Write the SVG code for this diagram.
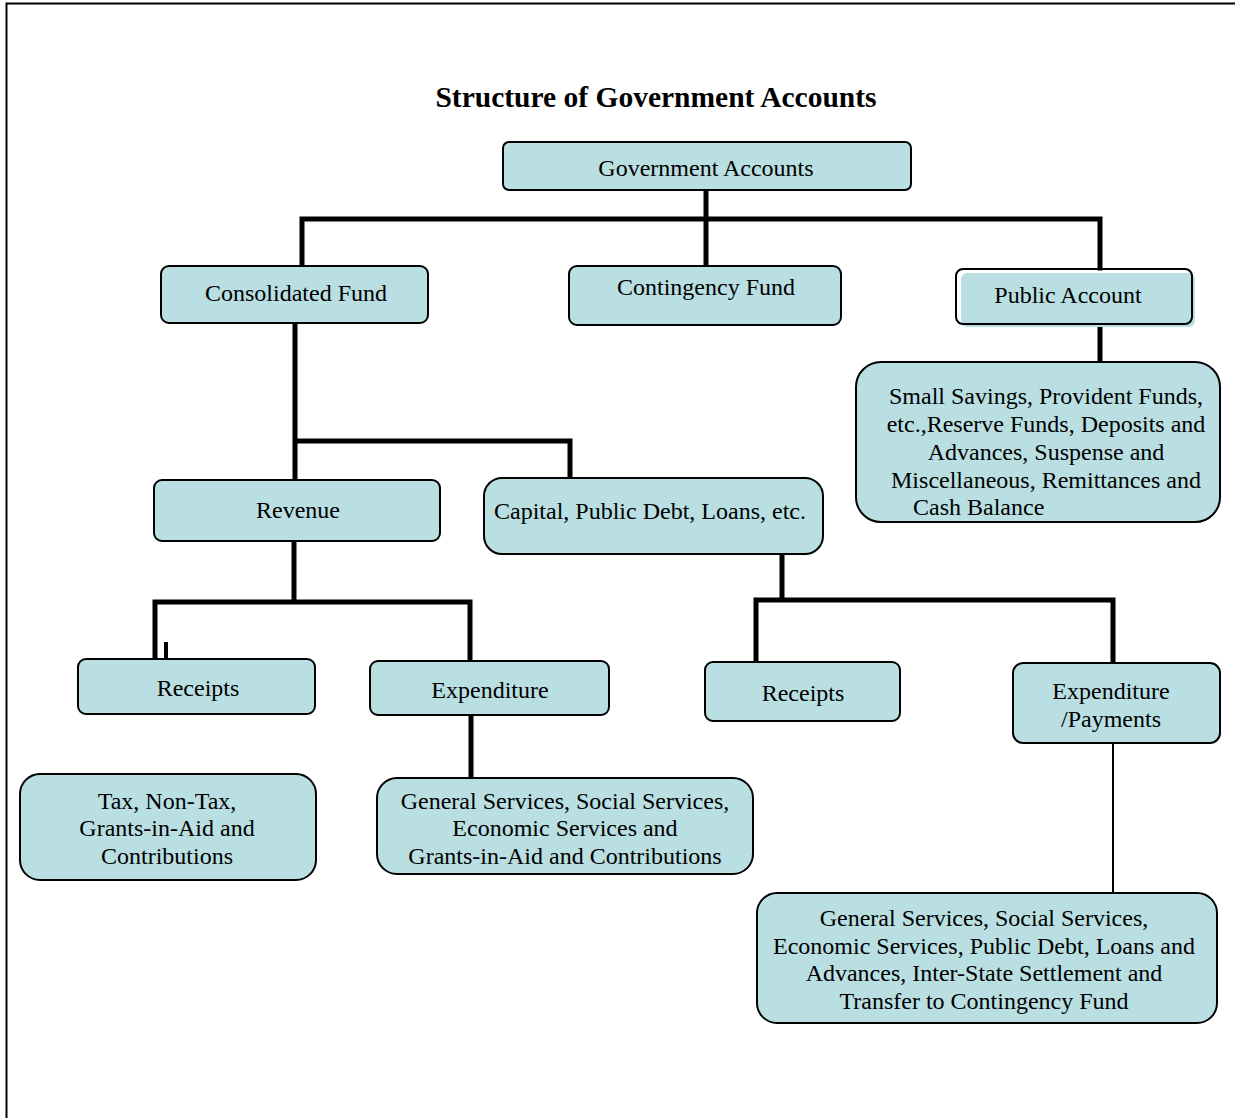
<svg xmlns="http://www.w3.org/2000/svg" width="1235" height="1118" viewBox="0 0 1235 1118">
<style>
.box{fill:#b9dfe2;stroke:#000;stroke-width:2}
.t{font-family:"Liberation Serif","Times New Roman",serif;font-size:24px;fill:#000;text-anchor:middle}
.title{font-family:"Liberation Serif","Times New Roman",serif;font-size:29.5px;font-weight:bold;fill:#000;text-anchor:middle}
.c{fill:none;stroke:#000;stroke-width:5;stroke-linecap:square}
</style>
<rect x="0" y="0" width="1235" height="1118" fill="#fff"/>
<path d="M6.5 1118 V3.5 H1235" fill="none" stroke="#000" stroke-width="2"/>
<text class="title" x="656" y="107">Structure of Government Accounts</text>
<g id="connectors">
<path class="c" d="M706 191 V265 M302 266 V219 H1100 V268"/>
<path class="c" d="M1100 324 V361"/>
<path class="c" d="M295 324 V479 M295 441 H570 V477"/>
<path class="c" d="M294 542 V602 M155 659 V602 H470 V660"/>
<path d="M166 642 V659" stroke="#000" stroke-width="4" fill="none"/>
<path class="c" d="M471 718 V777"/>
<path class="c" d="M782 555 V600 M756 661 V600 H1113 V662"/>
<path d="M1113 744 V892" stroke="#000" stroke-width="2" fill="none"/>
</g>
<g id="gov"><rect class="box" x="503" y="142" width="408" height="48" rx="6"/><text class="t" x="706" y="176">Government Accounts</text></g>
<g id="consolidated"><rect class="box" x="161" y="266" width="267" height="57" rx="8"/><text class="t" x="296" y="301">Consolidated Fund</text></g>
<g id="contingency"><rect class="box" x="569" y="266" width="272" height="59" rx="8"/><text class="t" x="706" y="295">Contingency Fund</text></g>
<g id="public">
<rect x="961" y="273" width="234" height="54" rx="6" fill="#b9dfe2"/>
<rect x="956" y="269" width="236" height="55" rx="7" fill="none" stroke="#000" stroke-width="2"/>
<text class="t" x="1068" y="303">Public Account</text></g>
<g id="savings"><rect class="box" x="856" y="362" width="364" height="160" rx="25"/>
<text class="t" x="1046" y="404">Small Savings, Provident Funds,</text>
<text class="t" x="1046" y="432">etc.,Reserve Funds, Deposits and</text>
<text class="t" x="1046" y="460">Advances, Suspense and</text>
<text class="t" x="1046" y="488">Miscellaneous, Remittances and</text>
<text class="t" x="913" y="515" style="text-anchor:start">Cash Balance</text></g>
<g id="revenue"><rect class="box" x="154" y="480" width="286" height="61" rx="8"/><text class="t" x="298" y="518">Revenue</text></g>
<g id="capital"><rect class="box" x="484" y="478" width="339" height="76" rx="18"/><text class="t" x="650" y="519">Capital, Public Debt, Loans, etc.</text></g>
<g id="receipts1"><rect class="box" x="78" y="659" width="237" height="55" rx="8"/><text class="t" x="198" y="696">Receipts</text></g>
<g id="expenditure1"><rect class="box" x="370" y="661" width="239" height="54" rx="8"/><text class="t" x="490" y="698">Expenditure</text></g>
<g id="tax"><rect class="box" x="20" y="774" width="296" height="106" rx="20"/>
<text class="t" x="167" y="809">Tax, Non-Tax,</text>
<text class="t" x="167" y="836">Grants-in-Aid and</text>
<text class="t" x="167" y="864">Contributions</text></g>
<g id="general1"><rect class="box" x="377" y="778" width="376" height="96" rx="20"/>
<text class="t" x="565" y="809">General Services, Social Services,</text>
<text class="t" x="565" y="836">Economic Services and</text>
<text class="t" x="565" y="864">Grants-in-Aid and Contributions</text></g>
<g id="receipts2"><rect class="box" x="705" y="662" width="195" height="59" rx="8"/><text class="t" x="803" y="701">Receipts</text></g>
<g id="expenditure2"><rect class="box" x="1013" y="663" width="207" height="80" rx="10"/>
<text class="t" x="1111" y="699">Expenditure</text>
<text class="t" x="1111" y="727">/Payments</text></g>
<g id="general2"><rect class="box" x="757" y="893" width="460" height="130" rx="20"/>
<text class="t" x="984" y="926">General Services, Social Services,</text>
<text class="t" x="984" y="954">Economic Services, Public Debt, Loans and</text>
<text class="t" x="984" y="981">Advances, Inter-State Settlement and</text>
<text class="t" x="984" y="1009">Transfer to Contingency Fund</text></g>
</svg>
